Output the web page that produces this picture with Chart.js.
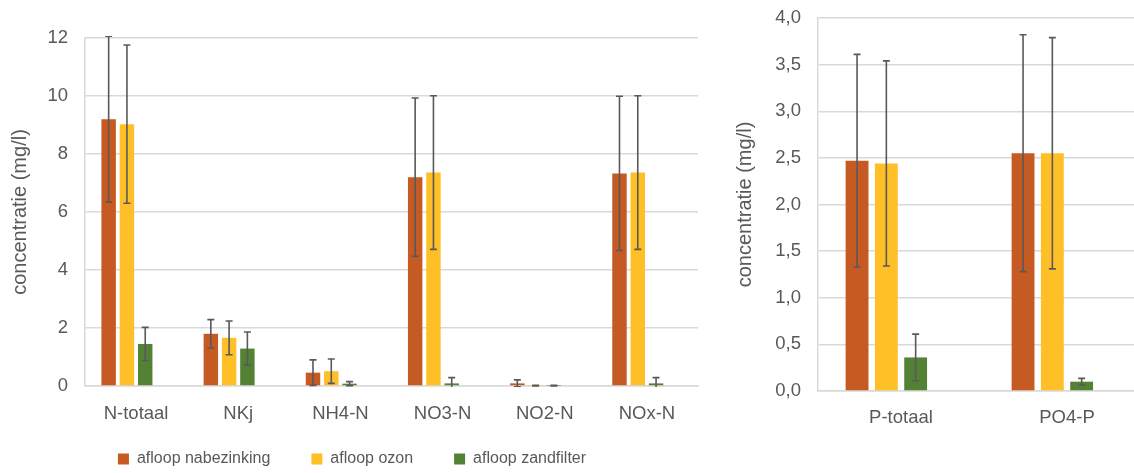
<!DOCTYPE html>
<html>
<head>
<meta charset="utf-8">
<script src="https://cdn.jsdelivr.net/npm/chart.js@4.4.1/dist/chart.umd.min.js"></script>
<style>
    html, body { margin: 0; padding: 0; background: #fff; overflow: hidden; width: 1134px; height: 473px; }
    #left { position: absolute; left: 0; top: 0; width: 711px; height: 473px; }
    #right { position: absolute; left: 711px; top: 0; width: 450px; height: 473px; }
</style>
</head>
<body>
<div id="left"><canvas id="nChart"></canvas></div>
<div id="right"><canvas id="pChart"></canvas></div>
<script>
// Stikstof (links)
const nLabels = ['N-totaal', 'NKj', 'NH4-N', 'NO3-N', 'NO2-N', 'NOx-N'];
const nNabezinking = [9.2, 1.8, 0.46, 7.2, 0.09, 7.33];
const nNabezinkingSd = [2.86, 0.49, 0.44, 2.73, 0.12, 2.66];
const nOzon = [9.03, 1.66, 0.51, 7.36, 0.01, 7.36];
const nOzonSd = [2.73, 0.58, 0.42, 2.65, 0.01, 2.65];
const nZandfilter = [1.45, 1.29, 0.08, 0.09, 0.01, 0.09];
const nZandfilterSd = [0.57, 0.57, 0.07, 0.2, 0.01, 0.2];
const nTicks = [0, 2, 4, 6, 8, 10, 12];

// Fosfor (rechts)
const pLabels = ['P-totaal', 'PO4-P'];
const pNabezinking = [2.47, 2.55];
const pNabezinkingSd = [1.14, 1.27];
const pOzon = [2.44, 2.55];
const pOzonSd = [1.1, 1.24];
const pZandfilter = [0.36, 0.1];
const pZandfilterSd = [0.25, 0.035];
const pTicks = [0, 0.5, 1, 1.5, 2, 2.5, 3, 3.5, 4];

const seriesNames = ['afloop nabezinking', 'afloop ozon', 'afloop zandfilter'];
const colors = ['#C55A22', '#FFC027', '#548235'];
const textColor = '#595959';
const gridColor = '#D9D9D9';
const family = '"Liberation Sans", Arial, sans-serif';
const tickFont = { family: family, size: 18.5 };
const titleFont = { family: family, size: 20 };
const legendFont = { family: family, size: 16 };

// foutbalken tekenen (geen native support in Chart.js)
const errorBars = {
    id: 'errorBars',
    afterDatasetsDraw(chart) {
        const ctx = chart.ctx;
        const y = chart.scales.y;
        const area = chart.chartArea;
        ctx.save();
        ctx.beginPath();
        ctx.rect(area.left, area.top - 2, area.width, area.height + 3);
        ctx.clip();
        ctx.strokeStyle = textColor;
        ctx.lineWidth = 1.6;
        chart.data.datasets.forEach((ds, i) => {
            if (!ds.sd) return;
            chart.getDatasetMeta(i).data.forEach((bar, j) => {
                const v = ds.data[j];
                const e = ds.sd[j];
                if (v == null || e == null) return;
                const top = y.getPixelForValue(v + e);
                const bot = y.getPixelForValue(v - e);
                ctx.beginPath();
                ctx.moveTo(bar.x, top);
                ctx.lineTo(bar.x, bot);
                ctx.moveTo(bar.x - 3.5, top);
                ctx.lineTo(bar.x + 3.5, top);
                ctx.moveTo(bar.x - 3.5, bot);
                ctx.lineTo(bar.x + 3.5, bot);
                ctx.stroke();
            });
        });
        ctx.restore();
    }
};

// legenda wat dichter onder de as zetten
const legendShift = {
    id: 'legendShift',
    afterLayout(chart, args, opts) {
        const l = chart.legend;
        if (!l || !opts.dy) return;
        l.top += opts.dy;
        l.bottom += opts.dy;
    }
};

function makeDatasets(values, sds, catPct, barPct) {
    const sets = values.map((data, i) => ({
        label: seriesNames[i],
        data: data,
        sd: sds[i],
        backgroundColor: colors[i],
        categoryPercentage: catPct,
        barPercentage: barPct
    }));
    // lege vierde reeks (zoals in Excel) voor de plaatsing van de staven
    sets.push({
        label: '',
        data: values[0].map(() => null),
        backgroundColor: 'rgba(0,0,0,0)',
        categoryPercentage: catPct,
        barPercentage: barPct
    });
    return sets;
}

function yAxis(max, ticks, width, titlePad, fmt) {
    return {
        min: 0,
        max: max,
        afterBuildTicks: s => { s.ticks = ticks.map(v => ({ value: v })); },
        grid: { color: gridColor, lineWidth: 1.5, drawTicks: false },
        border: { color: gridColor, width: 1.5 },
        ticks: { color: textColor, font: tickFont, padding: 17, callback: fmt },
        title: {
            display: true,
            text: 'concentratie (mg/l)',
            color: textColor,
            font: titleFont,
            padding: { top: titlePad, bottom: 0 }
        },
        afterFit: s => {
            s.width = width;
            s.paddingTop = 0;
            s.paddingBottom = 0;
        }
    };
}

function createNChart() {
    const ctx = document.getElementById('nChart').getContext('2d');
    new Chart(ctx, {
        type: 'bar',
        data: {
            labels: nLabels,
            datasets: makeDatasets([nNabezinking, nOzon, nZandfilter],
                [nNabezinkingSd, nOzonSd, nZandfilterSd], 0.716, 0.79)
        },
        options: {
            responsive: true,
            maintainAspectRatio: false,
            animation: false,
            layout: { padding: { left: 6, right: 13, top: 38, bottom: -20 } },
            plugins: {
                legend: {
                    position: 'bottom',
                    labels: {
                        boxWidth: 11,
                        boxHeight: 11,
                        padding: 41,
                        color: textColor,
                        font: legendFont,
                        filter: item => item.datasetIndex < 3
                    }
                },
                legendShift: { dy: -16 },
                tooltip: { enabled: false }
            },
            scales: {
                x: {
                    grid: { display: false },
                    border: { color: gridColor, width: 1.5 },
                    ticks: { color: textColor, font: tickFont, padding: 9 },
                    afterFit: s => { s.height = 40; }
                },
                y: yAxis(12, nTicks, 79, 2, v => v)
            }
        },
        plugins: [errorBars, legendShift]
    });
}

function createPChart() {
    const ctx = document.getElementById('pChart').getContext('2d');
    new Chart(ctx, {
        type: 'bar',
        data: {
            labels: pLabels,
            datasets: makeDatasets([pNabezinking, pOzon, pZandfilter],
                [pNabezinkingSd, pOzonSd, pZandfilterSd], 0.706, 0.78)
        },
        options: {
            responsive: true,
            maintainAspectRatio: false,
            animation: false,
            layout: { padding: { left: 0, right: 11, top: 18, bottom: 0 } },
            plugins: {
                legend: { display: false },
                tooltip: { enabled: false }
            },
            scales: {
                x: {
                    grid: { display: false },
                    border: { color: gridColor, width: 1.5 },
                    ticks: { color: textColor, font: tickFont, padding: 8 },
                    afterFit: s => { s.height = 82; }
                },
                y: yAxis(4, pTicks, 107, 22, v => v.toFixed(1).replace('.', ','))
            }
        },
        plugins: [errorBars]
    });
}

createNChart();
createPChart();
</script>
</body>
</html>
